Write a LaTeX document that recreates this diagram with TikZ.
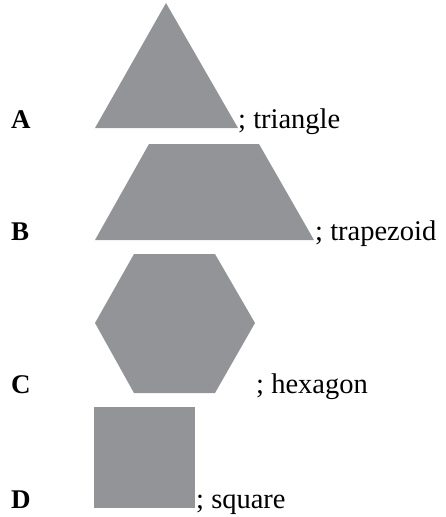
\documentclass[tikz,border=0pt]{standalone}
\usepackage{fontspec}
\setmainfont{Liberation Serif}
\definecolor{shapegray}{RGB}{147,148,152}
\begin{document}
\begin{tikzpicture}[x=1pt,y=-1pt,
  shapefill/.style={fill=shapegray,draw=none},
  lettertext/.style={anchor=base west,inner sep=0pt,font=\fontsize{27}{32}\selectfont\bfseries},
  shapelabel/.style={anchor=base west,inner sep=0pt,font=\fontsize{28.5}{34}\selectfont}]
\useasboundingbox (0,0) rectangle (446,517);
% triangle
\fill[shapefill] (166,3) -- (238,128) -- (95,128) -- cycle;
\node[lettertext] (A) at (11,128) {A};
\node[shapelabel] (tA) at (238,128) {; triangle};
% trapezoid
\fill[shapefill] (149,144) -- (259,144) -- (314,240) -- (95,240) -- cycle;
\node[lettertext] (B) at (11,240) {B};
\node[shapelabel] (tB) at (315,240) {; trapezoid};
% hexagon
\fill[shapefill] (134,254) -- (215,254) -- (255,323) -- (215,393) -- (134,393) -- (95,323) -- cycle;
\node[lettertext] (C) at (11,393) {C};
\node[shapelabel] (tC) at (256,393) {; hexagon};
% square
\fill[shapefill] (94,407) rectangle (195,508);
\node[lettertext] (D) at (11,508) {D};
\node[shapelabel] (tD) at (196,508) {; square};
\end{tikzpicture}
\end{document}
